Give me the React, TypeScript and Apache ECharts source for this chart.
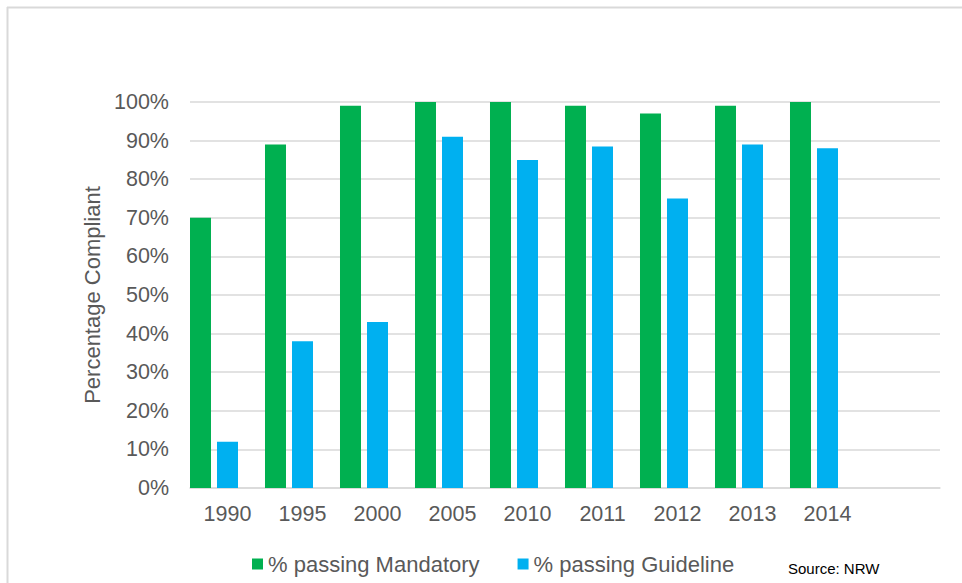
import React, { useEffect, useRef } from "react";
import * as echarts from "echarts";

const categories = ["1990", "1995", "2000", "2005", "2010", "2011", "2012", "2013", "2014", ""];
const mandatory = [0.70, 0.89, 0.99, 1.0, 1.0, 0.99, 0.97, 0.99, 1.0, null];
const guideline = [0.12, 0.38, 0.43, 0.91, 0.85, 0.885, 0.75, 0.89, 0.88, null];
const padding = [null, null, null, null, null, null, null, null, null, null];
const seriesNames = ["% passing Mandatory", "% passing Guideline"];

const FONT = "'Liberation Sans', Arial, sans-serif";

export default function App() {
  const ref = useRef<HTMLDivElement>(null);
  useEffect(() => {
    document.body.style.margin = "0";
    const chart = echarts.init(ref.current!, null, { renderer: "svg" });
    chart.setOption({
      animation: false,
      backgroundColor: "#ffffff",
      textStyle: { fontFamily: FONT },
      grid: { left: 190, right: 22, top: 102, bottom: 95, containLabel: false },
      legend: {
        data: seriesNames,
        left: 247,
        top: 548,
        icon: "rect",
        itemWidth: 11,
        itemHeight: 11,
        itemGap: 38,
        textStyle: { fontSize: 22, color: "#595959", fontFamily: FONT },
      },
      xAxis: {
        type: "category",
        data: categories,
        axisLine: { lineStyle: { color: "#d9d9d9", width: 1.5 } },
        axisTick: { show: false },
        axisLabel: { fontSize: 21.5, color: "#595959", margin: 15, fontFamily: FONT, interval: 0 },
      },
      yAxis: {
        type: "value",
        min: 0,
        max: 1,
        interval: 0.1,
        name: "Percentage Compliant",
        nameLocation: "middle",
        nameRotate: 90,
        nameGap: 84,
        nameTextStyle: { fontSize: 22, color: "#595959", fontFamily: FONT },
        axisLine: { show: false },
        axisTick: { show: false },
        axisLabel: {
          fontSize: 21.5,
          color: "#595959",
          margin: 21,
          fontFamily: FONT,
          formatter: (v: number) => Math.round(v * 100) + "%",
        },
        splitLine: { lineStyle: { color: "#d9d9d9", width: 1.5 } },
      },
      series: [
        {
          name: seriesNames[0],
          type: "bar",
          data: mandatory,
          barWidth: 21,
          barGap: "28.6%",
          itemStyle: { color: "#00B050" },
        },
        {
          name: seriesNames[1],
          type: "bar",
          data: guideline,
          barWidth: 21,
          barGap: "28.6%",
          itemStyle: { color: "#00B0F0" },
        },
        {
          name: "pad",
          type: "bar",
          data: padding,
          barWidth: 21,
          barGap: "28.6%",
          itemStyle: { color: "transparent" },
          silent: true,
        },
      ],
      graphic: [
        {
          type: "line",
          shape: { x1: 7, y1: 7.5, x2: 962, y2: 7.5 },
          style: { stroke: "#d9d9d9", lineWidth: 2 },
        },
        {
          type: "line",
          shape: { x1: 7.5, y1: 7, x2: 7.5, y2: 583 },
          style: { stroke: "#d9d9d9", lineWidth: 2 },
        },
        {
          type: "text",
          x: 788,
          y: 561,
          style: { text: "Source: NRW", fontSize: 15, fill: "#000000", fontFamily: FONT },
        },
      ],
    });
    return () => chart.dispose();
  }, []);
  return <div ref={ref} style={{ width: 962, height: 583 }} />;
}
